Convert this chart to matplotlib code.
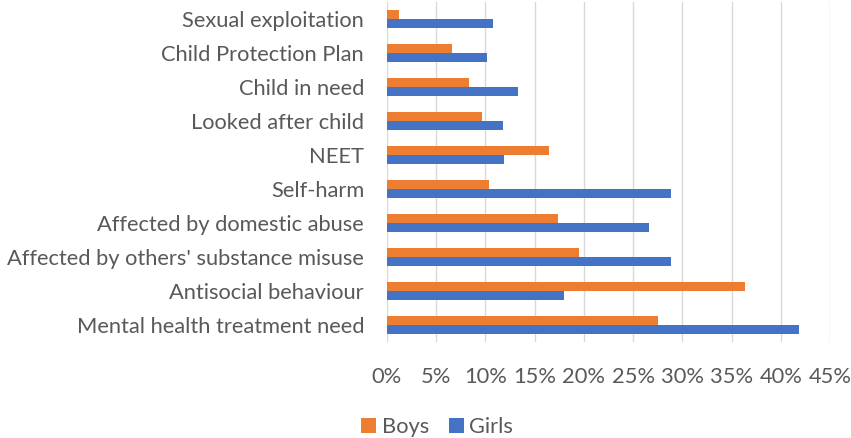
import matplotlib
matplotlib.use("Agg")
import matplotlib.pyplot as plt
import numpy as np
from matplotlib.ticker import FuncFormatter, MultipleLocator

categories = ["Sexual exploitation", "Child Protection Plan", "Child in need",
              "Looked after child", "NEET", "Self-harm",
              "Affected by domestic abuse",
              "Affected by others' substance misuse",
              "Antisocial behaviour", "Mental health treatment need"]
boys = [1.2, 6.6, 8.3, 9.7, 16.5, 10.4, 17.4, 19.5, 36.4, 27.5]
girls = [10.8, 10.2, 13.3, 11.8, 11.9, 28.8, 26.6, 28.8, 18.0, 41.9]

plt.rcParams['font.family'] = ['Lato', 'DejaVu Sans']
fig = plt.figure(figsize=(8.51, 4.38), dpi=100)

# measure font size to match label width
t = fig.text(0, 0, "Affected by others' substance misuse", fontsize=13)
fig.canvas.draw()
w = t.get_window_extent().width
t.remove()
fs = 13 * 358 / w

ax = fig.add_axes([387/851, 1-342/438, (830-387)/851, 340/438])

y = np.arange(len(categories))
h = 0.265
ax.barh(y - h/2, boys, height=h, color="#ED7D31", label="Boys", zorder=3)
ax.barh(y + h/2, girls, height=h, color="#4472C4", label="Girls", zorder=3)

ax.set_xlim(0, 45)
ax.set_ylim(len(categories) - 0.5, -0.5)
ax.xaxis.set_major_locator(MultipleLocator(5))
ax.xaxis.set_major_formatter(FuncFormatter(lambda v, p: f"{int(round(v))}%"))
ax.set_yticks(y)
ax.set_yticklabels(categories)
ax.grid(axis='x', color="#d9d9d9", linewidth=1, zorder=0)
for s in ax.spines.values():
    s.set_visible(False)
ax.tick_params(axis='both', length=0, colors="#595959", labelsize=fs)
ax.tick_params(axis='x', pad=18)
ax.tick_params(axis='y', pad=16.5)

fig.legend(loc='center', bbox_to_anchor=(437/851, 1-427/438), ncol=2, frameon=False,
           fontsize=fs, handlelength=0.7, handleheight=0.7, handletextpad=0.25,
           columnspacing=0.9, labelcolor="#595959")
fig.savefig("out.png", dpi=100)
